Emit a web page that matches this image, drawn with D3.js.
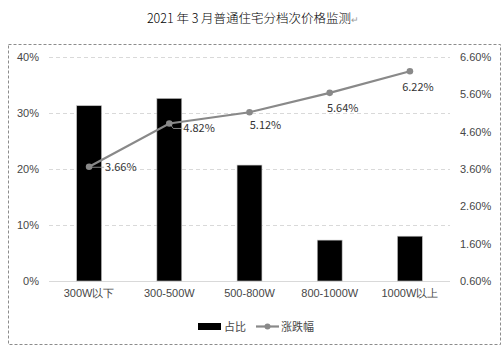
<!DOCTYPE html>
<html><head><meta charset="utf-8">
<script src="https://cdn.jsdelivr.net/npm/d3@7"></script>
<style>body{margin:0;background:#fff}svg{display:block;font-family:"Microsoft YaHei","Noto Sans CJK SC",sans-serif}</style>
</head><body><svg id="c" width="504" height="350"></svg>
<script>
const categories = ["300W以下","300-500W","500-800W","800-1000W","1000W以上"];
const shareValues = [31.3, 32.6, 20.7, 7.3, 8.0];
const changeValues = [3.66, 4.82, 5.12, 5.64, 6.22];
const leftTicks = [0, 10, 20, 30, 40];
const rightTicks = [0.6, 1.6, 2.6, 3.6, 4.6, 5.6, 6.6];
const titleText = "2021 年 3 月普通住宅分档次价格监测";
const legendNames = ["占比", "涨跌幅"];

const svg = d3.select("#c");
const L = 49, R = 450, T = 57, B = 281;
const x = d3.scaleBand().domain(categories).range([L, R]).paddingInner(0.69).paddingOuter(0.345);
const yL = d3.scaleLinear().domain([0, 40]).range([B, T]);
const yR = d3.scaleLinear().domain([0.6, 6.6]).range([B, T]);
const txt = "#474747";

svg.append("rect").attr("x", 8.5).attr("y", 44.5).attr("width", 492).attr("height", 300)
  .attr("fill", "none").attr("stroke", "#8c8c8c").attr("stroke-dasharray", "3,2");

const t = svg.append("text").attr("x", 253).attr("y", 23).attr("text-anchor", "middle")
  .attr("font-size", 12.5).attr("font-weight", 300).attr("fill", "#000");
t.append("tspan").text(titleText);
t.append("tspan").text("↵").attr("font-size", 9).attr("fill", "#999");

// gridlines
svg.append("g").selectAll("line").data(leftTicks.filter(d => d > 0)).join("line")
  .attr("x1", L).attr("x2", R).attr("y1", d => yL(d) + 0.5).attr("y2", d => yL(d) + 0.5)
  .attr("stroke", "#d9d9d9").attr("stroke-dasharray", "4,3");
svg.append("line").attr("x1", L).attr("x2", R).attr("y1", B + 0.5).attr("y2", B + 0.5).attr("stroke", "#d9d9d9");

// axes labels
const axL = d3.axisLeft(yL).tickValues(leftTicks).tickFormat(d => d + "%").tickSize(0).tickPadding(0);
svg.append("g").attr("transform", `translate(${L - 10},0)`).call(axL)
  .call(g => g.select(".domain").remove())
  .call(g => g.selectAll("text").attr("font-size", 11).attr("fill", txt).attr("font-family", "inherit"));
const axR = d3.axisRight(yR).tickValues(rightTicks).tickFormat(d => d.toFixed(2) + "%").tickSize(0).tickPadding(0);
svg.append("g").attr("transform", `translate(${R + 10},0)`).call(axR)
  .call(g => g.select(".domain").remove())
  .call(g => g.selectAll("text").attr("font-size", 11).attr("fill", txt).attr("font-family", "inherit"));
const axB = d3.axisBottom(x).tickSize(0).tickPadding(0);
svg.append("g").attr("transform", `translate(0,${B + 8})`).call(axB)
  .call(g => g.select(".domain").remove())
  .call(g => g.selectAll("text").attr("font-size", 11).attr("fill", txt).attr("font-family", "inherit"));

// bars
svg.append("g").selectAll("rect").data(shareValues).join("rect")
  .attr("x", (d, i) => x(categories[i])).attr("width", x.bandwidth())
  .attr("y", d => yL(d)).attr("height", d => B - yL(d))
  .attr("fill", "#000").attr("stroke", "#bfbfbf").attr("stroke-width", 0.6);

// line
const cx = i => x(categories[i]) + x.bandwidth() / 2;
const lineColor = "#898989";
svg.append("path").datum(changeValues)
  .attr("d", d3.line().x((d, i) => cx(i)).y(d => yR(d)))
  .attr("fill", "none").attr("stroke", lineColor).attr("stroke-width", 2.2);
svg.append("g").selectAll("circle").data(changeValues).join("circle")
  .attr("cx", (d, i) => cx(i)).attr("cy", d => yR(d)).attr("r", 3.3).attr("fill", lineColor);

// labels
const lbl = [
  {dx: 16, dy: 4, anchor: "start"},
  {dx: 14, dy: 9, anchor: "start"},
  {dx: 16, dy: 17, anchor: "middle"},
  {dx: 13, dy: 19, anchor: "middle"},
  {dx: 8, dy: 20, anchor: "middle"}
];
// leader lines
const y1 = yR(changeValues[1]);
svg.append("path").attr("d", `M${cx(1) + 1},${y1 + 1} L${cx(1) + 4},${y1 + 5} L${cx(1) + 13},${y1 + 5}`)
  .attr("fill", "none").attr("stroke", "#a6a6a6").attr("stroke-width", 0.8);
svg.append("line").attr("x1", cx(0) + 3).attr("x2", cx(0) + 15).attr("y1", yR(changeValues[0]) + 0.5).attr("y2", yR(changeValues[0]) + 0.5)
  .attr("stroke", "#a6a6a6").attr("stroke-width", 0.8);
svg.append("g").selectAll("text").data(changeValues).join("text")
  .attr("x", (d, i) => cx(i) + lbl[i].dx).attr("y", (d, i) => yR(d) + lbl[i].dy)
  .attr("text-anchor", (d, i) => lbl[i].anchor)
  .attr("font-size", 11).attr("fill", "#333").text(d => d.toFixed(2) + "%");

// legend
const lg = svg.append("g");
lg.append("rect").attr("x", 198).attr("y", 323).attr("width", 23).attr("height", 7).attr("fill", "#000");
lg.append("text").attr("x", 224).attr("y", 331).attr("font-size", 11).attr("fill", txt).text(legendNames[0]);
lg.append("line").attr("x1", 256).attr("x2", 279).attr("y1", 326.5).attr("y2", 326.5).attr("stroke", lineColor).attr("stroke-width", 2.2);
lg.append("circle").attr("cx", 267.5).attr("cy", 326.5).attr("r", 3).attr("fill", lineColor);
lg.append("text").attr("x", 281).attr("y", 331).attr("font-size", 11).attr("fill", txt).text(legendNames[1]);
</script></body></html>
